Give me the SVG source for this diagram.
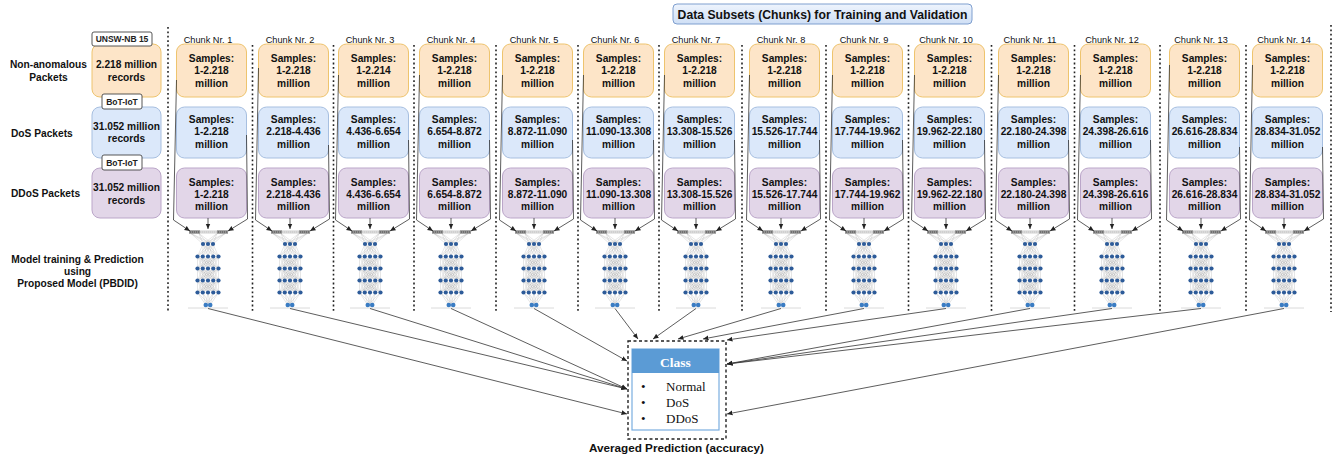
<svg xmlns="http://www.w3.org/2000/svg" xmlns:xlink="http://www.w3.org/1999/xlink" width="1341" height="459" viewBox="0 0 1341 459">
  <style>
    .lbl { font-family: "Liberation Sans", Arial, sans-serif; font-weight: bold; font-size: 10.2px; fill: #111; }
    .bt { font-family: "Liberation Sans", Arial, sans-serif; font-weight: bold; font-size: 10.2px; fill: #111; text-anchor: middle; }
    .chunk { font-family: "Liberation Sans", Arial, sans-serif; font-size: 9.2px; fill: #111; text-anchor: middle; }
    .tag { font-family: "Liberation Sans", Arial, sans-serif; font-weight: bold; font-size: 8.5px; fill: #222; text-anchor: middle; }
    .org { fill: #fde5c8; stroke: #eec46e; stroke-width: 1; }
    .blu { fill: #dbe8fa; stroke: #a7bfe0; stroke-width: 1; }
    .pur { fill: #e2d6e8; stroke: #bba6c9; stroke-width: 1; }
    .tagbox { fill: #fff; stroke: #444; stroke-width: 0.9; }
    .div { stroke: #222; stroke-width: 1.6; stroke-dasharray: 1.8 2.6; fill: none; }
    .con { stroke: #333; stroke-width: 0.8; fill: none; marker-end: url(#ah); }
    .mesh { stroke: #a9a9a9; stroke-width: 0.3; fill: none; }
    .nd { fill: #2d5b99; }
    .out { fill: #3a7cc3; }
    .serif { font-family: "Liberation Serif", "Times New Roman", serif; font-size: 13px; fill: #111; }
  </style>
  <defs>
    <marker id="ah" markerWidth="7" markerHeight="6" refX="5.5" refY="3" orient="auto" markerUnits="userSpaceOnUse">
      <path d="M0,0.6 L5.5,3 L0,5.4 Z" fill="#222"/>
    </marker>
    <linearGradient id="titleFill" x1="0" y1="0" x2="0" y2="1">
      <stop offset="0" stop-color="#eef4fd"/>
      <stop offset="1" stop-color="#cfdff5"/>
    </linearGradient>
    <!-- fully connected mesh between two rows of five nodes -->
    <path id="m55" class="mesh" d="M-10.5 0L-10.5 12M-10.5 0L-5.25 12M-10.5 0L0 12M-10.5 0L5.25 12M-10.5 0L10.5 12M-5.25 0L-10.5 12M-5.25 0L-5.25 12M-5.25 0L0 12M-5.25 0L5.25 12M-5.25 0L10.5 12M0 0L-10.5 12M0 0L-5.25 12M0 0L0 12M0 0L5.25 12M0 0L10.5 12M5.25 0L-10.5 12M5.25 0L-5.25 12M5.25 0L0 12M5.25 0L5.25 12M5.25 0L10.5 12M10.5 0L-10.5 12M10.5 0L-5.25 12M10.5 0L0 12M10.5 0L5.25 12M10.5 0L10.5 12"/>
    <g id="row5">
      <circle cx="-10.5" cy="0" r="2.1"/><circle cx="-5.25" cy="0" r="2.1"/><circle cx="0" cy="0" r="2.1"/><circle cx="5.25" cy="0" r="2.1"/><circle cx="10.5" cy="0" r="2.1"/>
    </g>
    <!-- small neural network icon, x relative to its centre -->
    <g id="net">
      <line x1="-20" y1="308" x2="20" y2="308" stroke="#d0d0d0" stroke-width="0.8"/>
      <path class="mesh" d="M-17 233.5L-5 244M-17 233.5L0 244M-17 233.5L5 244M-9 233.5L-5 244M-9 233.5L0 244M-9 233.5L5 244M9 233.5L-5 244M9 233.5L0 244M9 233.5L5 244M17 233.5L-5 244M17 233.5L0 244M17 233.5L5 244"/>
      <path class="mesh" transform="translate(0,244)" d="M-5 0L-10.5 12.5M-5 0L-5.25 12.5M-5 0L0 12.5M-5 0L5.25 12.5M-5 0L10.5 12.5M0 0L-10.5 12.5M0 0L-5.25 12.5M0 0L0 12.5M0 0L5.25 12.5M0 0L10.5 12.5M5 0L-10.5 12.5M5 0L-5.25 12.5M5 0L0 12.5M5 0L5.25 12.5M5 0L10.5 12.5"/>
      <use href="#m55" y="256.5"/>
      <use href="#m55" y="268.5"/>
      <use href="#m55" y="280.5"/>
      <path class="mesh" transform="translate(0,292.5)" d="M-10.5 0L-2.2 12.5M-10.5 0L2.2 12.5M-5.25 0L-2.2 12.5M-5.25 0L2.2 12.5M0 0L-2.2 12.5M0 0L2.2 12.5M5.25 0L-2.2 12.5M5.25 0L2.2 12.5M10.5 0L-2.2 12.5M10.5 0L2.2 12.5"/>
      <rect x="-19" y="230.5" width="39" height="3" fill="#cfcfcf"/>
      <rect x="-19" y="230.5" width="11" height="3" fill="#707070"/>
      <rect x="9" y="230.5" width="11" height="3" fill="#707070"/>
      <line x1="-19" y1="232" x2="20" y2="232" stroke="#fff" stroke-width="0.6" stroke-dasharray="0.8 1.2"/>
      <g class="nd">
        <circle cx="-5" cy="244" r="2.1"/><circle cx="0" cy="244" r="2.1"/><circle cx="5" cy="244" r="2.1"/>
        <use href="#row5" y="256.5"/>
        <use href="#row5" y="268.5"/>
        <use href="#row5" y="280.5"/>
        <use href="#row5" y="292.5"/>
      </g>
      <g class="out">
        <circle cx="-2.2" cy="305" r="2.3"/><circle cx="2.2" cy="305" r="2.3"/>
      </g>
    </g>
  </defs>

  <rect width="1341" height="459" fill="#fff"/>

  <!-- title -->
  <g id="title">
    <rect x="673" y="4" width="299" height="20" rx="4" fill="url(#titleFill)" stroke="#7f9fcf" stroke-width="1"/>
    <text x="822.5" y="19" text-anchor="middle" font-family="Liberation Sans, Arial, sans-serif" font-weight="bold" font-size="12.2" fill="#111">Data Subsets (Chunks) for Training and Validation</text>
  </g>

  <!-- row captions -->
  <g id="captions">
    <text class="bt" x="48.5" y="67.5">Non-anomalous</text>
    <text class="bt" x="48.5" y="80.5">Packets</text>
    <text class="lbl" x="11" y="136.6">DoS Packets</text>
    <text class="lbl" x="11" y="197">DDoS Packets</text>
    <text class="bt" x="77.5" y="262.5">Model training &amp; Prediction</text>
    <text class="bt" x="77.5" y="274.5">using</text>
    <text class="bt" x="77.5" y="286.5">Proposed Model (PBDID)</text>
  </g>

  <!-- source datasets -->
  <g id="src-normal">
    <rect class="org" x="92" y="44" width="69" height="53" rx="8"/>
    <text class="bt" x="126.5" y="68">2.218 million</text>
    <text class="bt" x="126.5" y="80.5">records</text>
  </g>
  <g id="src-dos">
    <rect class="blu" x="92" y="107" width="69" height="51" rx="8"/>
    <text class="bt" x="126.5" y="130">31.052 million</text>
    <text class="bt" x="126.5" y="142.3">records</text>
  </g>
  <g id="src-ddos">
    <rect class="pur" x="92" y="168" width="69" height="50" rx="8"/>
    <text class="bt" x="126.5" y="191">31.052 million</text>
    <text class="bt" x="126.5" y="203.5">records</text>
  </g>
  <g id="tag-unsw">
    <rect class="tagbox" x="92" y="32" width="60" height="14" rx="2"/>
    <text class="tag" x="122" y="42.3">UNSW-NB 15</text>
  </g>
  <g id="tag-bot1">
    <rect class="tagbox" x="102" y="94" width="40" height="15" rx="2"/>
    <text class="tag" x="122" y="104.5">BoT-IoT</text>
  </g>
  <g id="tag-bot2">
    <rect class="tagbox" x="102" y="155" width="40" height="15" rx="2"/>
    <text class="tag" x="122" y="165.5">BoT-IoT</text>
  </g>

  <!-- dotted column separators -->
  <g id="separators">
    <line class="div" x1="168" y1="27" x2="168" y2="312"/>
    <line class="div" x1="252.5" y1="45" x2="252.5" y2="312"/>
    <line class="div" x1="333.5" y1="45" x2="333.5" y2="312"/>
    <line class="div" x1="414" y1="45" x2="414" y2="312"/>
    <line class="div" x1="496" y1="45" x2="496" y2="312"/>
    <line class="div" x1="578" y1="45" x2="578" y2="312"/>
    <line class="div" x1="659" y1="45" x2="659" y2="312"/>
    <line class="div" x1="742" y1="45" x2="742" y2="312"/>
    <line class="div" x1="826" y1="45" x2="826" y2="312"/>
    <line class="div" x1="908.5" y1="45" x2="908.5" y2="312"/>
    <line class="div" x1="991.5" y1="45" x2="991.5" y2="312"/>
    <line class="div" x1="1074.5" y1="45" x2="1074.5" y2="312"/>
    <line class="div" x1="1160" y1="45" x2="1160" y2="312"/>
    <line class="div" x1="1246" y1="45" x2="1246" y2="312"/>
    <line class="div" x1="1331" y1="25" x2="1331" y2="312"/>
  </g>

  <!-- chunk columns -->
  <g id="chunk1">
    <text class="chunk" x="208" y="42.5">Chunk Nr. 1</text>
    <rect class="org" x="176.5" y="44" width="70" height="53" rx="8"/>
    <rect class="blu" x="176.5" y="107" width="70" height="51" rx="8"/>
    <rect class="pur" x="176.5" y="168" width="70" height="50" rx="8"/>
    <text class="bt" x="211.5" y="61.7">Samples:</text><text class="bt" x="211.5" y="74.2">1-2.218</text><text class="bt" x="211.5" y="86.7">million</text>
    <text class="bt" x="211.5" y="122.7">Samples:</text><text class="bt" x="211.5" y="135.3">1-2.218</text><text class="bt" x="211.5" y="147.8">million</text>
    <text class="bt" x="211.5" y="185.7">Samples:</text><text class="bt" x="211.5" y="198">1-2.218</text><text class="bt" x="211.5" y="210.3">million</text>
    <use href="#net" x="208"/>
  </g>
  <g id="chunk2">
    <text class="chunk" x="290" y="42.5">Chunk Nr. 2</text>
    <rect class="org" x="258.5" y="44" width="70" height="53" rx="8"/>
    <rect class="blu" x="258.5" y="107" width="70" height="51" rx="8"/>
    <rect class="pur" x="258.5" y="168" width="70" height="50" rx="8"/>
    <text class="bt" x="293.5" y="61.7">Samples:</text><text class="bt" x="293.5" y="74.2">1-2.218</text><text class="bt" x="293.5" y="86.7">million</text>
    <text class="bt" x="293.5" y="122.7">Samples:</text><text class="bt" x="293.5" y="135.3">2.218-4.436</text><text class="bt" x="293.5" y="147.8">million</text>
    <text class="bt" x="293.5" y="185.7">Samples:</text><text class="bt" x="293.5" y="198">2.218-4.436</text><text class="bt" x="293.5" y="210.3">million</text>
    <use href="#net" x="290"/>
  </g>
  <g id="chunk3">
    <text class="chunk" x="370" y="42.5">Chunk Nr. 3</text>
    <rect class="org" x="338.5" y="44" width="70" height="53" rx="8"/>
    <rect class="blu" x="338.5" y="107" width="70" height="51" rx="8"/>
    <rect class="pur" x="338.5" y="168" width="70" height="50" rx="8"/>
    <text class="bt" x="373.5" y="61.7">Samples:</text><text class="bt" x="373.5" y="74.2">1-2.214</text><text class="bt" x="373.5" y="86.7">million</text>
    <text class="bt" x="373.5" y="122.7">Samples:</text><text class="bt" x="373.5" y="135.3">4.436-6.654</text><text class="bt" x="373.5" y="147.8">million</text>
    <text class="bt" x="373.5" y="185.7">Samples:</text><text class="bt" x="373.5" y="198">4.436-6.654</text><text class="bt" x="373.5" y="210.3">million</text>
    <use href="#net" x="370"/>
  </g>
  <g id="chunk4">
    <text class="chunk" x="451" y="42.5">Chunk Nr. 4</text>
    <rect class="org" x="419.5" y="44" width="70" height="53" rx="8"/>
    <rect class="blu" x="419.5" y="107" width="70" height="51" rx="8"/>
    <rect class="pur" x="419.5" y="168" width="70" height="50" rx="8"/>
    <text class="bt" x="454.5" y="61.7">Samples:</text><text class="bt" x="454.5" y="74.2">1-2.218</text><text class="bt" x="454.5" y="86.7">million</text>
    <text class="bt" x="454.5" y="122.7">Samples:</text><text class="bt" x="454.5" y="135.3">6.654-8.872</text><text class="bt" x="454.5" y="147.8">million</text>
    <text class="bt" x="454.5" y="185.7">Samples:</text><text class="bt" x="454.5" y="198">6.654-8.872</text><text class="bt" x="454.5" y="210.3">million</text>
    <use href="#net" x="451"/>
  </g>
  <g id="chunk5">
    <text class="chunk" x="534" y="42.5">Chunk Nr. 5</text>
    <rect class="org" x="502.5" y="44" width="70" height="53" rx="8"/>
    <rect class="blu" x="502.5" y="107" width="70" height="51" rx="8"/>
    <rect class="pur" x="502.5" y="168" width="70" height="50" rx="8"/>
    <text class="bt" x="537.5" y="61.7">Samples:</text><text class="bt" x="537.5" y="74.2">1-2.218</text><text class="bt" x="537.5" y="86.7">million</text>
    <text class="bt" x="537.5" y="122.7">Samples:</text><text class="bt" x="537.5" y="135.3">8.872-11.090</text><text class="bt" x="537.5" y="147.8">million</text>
    <text class="bt" x="537.5" y="185.7">Samples:</text><text class="bt" x="537.5" y="198">8.872-11.090</text><text class="bt" x="537.5" y="210.3">million</text>
    <use href="#net" x="534"/>
  </g>
  <g id="chunk6">
    <text class="chunk" x="615" y="42.5">Chunk Nr. 6</text>
    <rect class="org" x="583.5" y="44" width="70" height="53" rx="8"/>
    <rect class="blu" x="583.5" y="107" width="70" height="51" rx="8"/>
    <rect class="pur" x="583.5" y="168" width="70" height="50" rx="8"/>
    <text class="bt" x="618.5" y="61.7">Samples:</text><text class="bt" x="618.5" y="74.2">1-2.218</text><text class="bt" x="618.5" y="86.7">million</text>
    <text class="bt" x="618.5" y="122.7">Samples:</text><text class="bt" x="618.5" y="135.3">11.090-13.308</text><text class="bt" x="618.5" y="147.8">million</text>
    <text class="bt" x="618.5" y="185.7">Samples:</text><text class="bt" x="618.5" y="198">11.090-13.308</text><text class="bt" x="618.5" y="210.3">million</text>
    <use href="#net" x="615"/>
  </g>
  <g id="chunk7">
    <text class="chunk" x="696" y="42.5">Chunk Nr. 7</text>
    <rect class="org" x="664.5" y="44" width="70" height="53" rx="8"/>
    <rect class="blu" x="664.5" y="107" width="70" height="51" rx="8"/>
    <rect class="pur" x="664.5" y="168" width="70" height="50" rx="8"/>
    <text class="bt" x="699.5" y="61.7">Samples:</text><text class="bt" x="699.5" y="74.2">1-2.218</text><text class="bt" x="699.5" y="86.7">million</text>
    <text class="bt" x="699.5" y="122.7">Samples:</text><text class="bt" x="699.5" y="135.3">13.308-15.526</text><text class="bt" x="699.5" y="147.8">million</text>
    <text class="bt" x="699.5" y="185.7">Samples:</text><text class="bt" x="699.5" y="198">13.308-15.526</text><text class="bt" x="699.5" y="210.3">million</text>
    <use href="#net" x="696"/>
  </g>
  <g id="chunk8">
    <text class="chunk" x="781" y="42.5">Chunk Nr. 8</text>
    <rect class="org" x="749.5" y="44" width="70" height="53" rx="8"/>
    <rect class="blu" x="749.5" y="107" width="70" height="51" rx="8"/>
    <rect class="pur" x="749.5" y="168" width="70" height="50" rx="8"/>
    <text class="bt" x="784.5" y="61.7">Samples:</text><text class="bt" x="784.5" y="74.2">1-2.218</text><text class="bt" x="784.5" y="86.7">million</text>
    <text class="bt" x="784.5" y="122.7">Samples:</text><text class="bt" x="784.5" y="135.3">15.526-17.744</text><text class="bt" x="784.5" y="147.8">million</text>
    <text class="bt" x="784.5" y="185.7">Samples:</text><text class="bt" x="784.5" y="198">15.526-17.744</text><text class="bt" x="784.5" y="210.3">million</text>
    <use href="#net" x="781"/>
  </g>
  <g id="chunk9">
    <text class="chunk" x="864" y="42.5">Chunk Nr. 9</text>
    <rect class="org" x="832.5" y="44" width="70" height="53" rx="8"/>
    <rect class="blu" x="832.5" y="107" width="70" height="51" rx="8"/>
    <rect class="pur" x="832.5" y="168" width="70" height="50" rx="8"/>
    <text class="bt" x="867.5" y="61.7">Samples:</text><text class="bt" x="867.5" y="74.2">1-2.218</text><text class="bt" x="867.5" y="86.7">million</text>
    <text class="bt" x="867.5" y="122.7">Samples:</text><text class="bt" x="867.5" y="135.3">17.744-19.962</text><text class="bt" x="867.5" y="147.8">million</text>
    <text class="bt" x="867.5" y="185.7">Samples:</text><text class="bt" x="867.5" y="198">17.744-19.962</text><text class="bt" x="867.5" y="210.3">million</text>
    <use href="#net" x="864"/>
  </g>
  <g id="chunk10">
    <text class="chunk" x="946" y="42.5">Chunk Nr. 10</text>
    <rect class="org" x="914.5" y="44" width="70" height="53" rx="8"/>
    <rect class="blu" x="914.5" y="107" width="70" height="51" rx="8"/>
    <rect class="pur" x="914.5" y="168" width="70" height="50" rx="8"/>
    <text class="bt" x="949.5" y="61.7">Samples:</text><text class="bt" x="949.5" y="74.2">1-2.218</text><text class="bt" x="949.5" y="86.7">million</text>
    <text class="bt" x="949.5" y="122.7">Samples:</text><text class="bt" x="949.5" y="135.3">19.962-22.180</text><text class="bt" x="949.5" y="147.8">million</text>
    <text class="bt" x="949.5" y="185.7">Samples:</text><text class="bt" x="949.5" y="198">19.962-22.180</text><text class="bt" x="949.5" y="210.3">million</text>
    <use href="#net" x="946"/>
  </g>
  <g id="chunk11">
    <text class="chunk" x="1030" y="42.5">Chunk Nr. 11</text>
    <rect class="org" x="998.5" y="44" width="70" height="53" rx="8"/>
    <rect class="blu" x="998.5" y="107" width="70" height="51" rx="8"/>
    <rect class="pur" x="998.5" y="168" width="70" height="50" rx="8"/>
    <text class="bt" x="1033.5" y="61.7">Samples:</text><text class="bt" x="1033.5" y="74.2">1-2.218</text><text class="bt" x="1033.5" y="86.7">million</text>
    <text class="bt" x="1033.5" y="122.7">Samples:</text><text class="bt" x="1033.5" y="135.3">22.180-24.398</text><text class="bt" x="1033.5" y="147.8">million</text>
    <text class="bt" x="1033.5" y="185.7">Samples:</text><text class="bt" x="1033.5" y="198">22.180-24.398</text><text class="bt" x="1033.5" y="210.3">million</text>
    <use href="#net" x="1030"/>
  </g>
  <g id="chunk12">
    <text class="chunk" x="1112" y="42.5">Chunk Nr. 12</text>
    <rect class="org" x="1080.5" y="44" width="70" height="53" rx="8"/>
    <rect class="blu" x="1080.5" y="107" width="70" height="51" rx="8"/>
    <rect class="pur" x="1080.5" y="168" width="70" height="50" rx="8"/>
    <text class="bt" x="1115.5" y="61.7">Samples:</text><text class="bt" x="1115.5" y="74.2">1-2.218</text><text class="bt" x="1115.5" y="86.7">million</text>
    <text class="bt" x="1115.5" y="122.7">Samples:</text><text class="bt" x="1115.5" y="135.3">24.398-26.616</text><text class="bt" x="1115.5" y="147.8">million</text>
    <text class="bt" x="1115.5" y="185.7">Samples:</text><text class="bt" x="1115.5" y="198">24.398-26.616</text><text class="bt" x="1115.5" y="210.3">million</text>
    <use href="#net" x="1112"/>
  </g>
  <g id="chunk13">
    <text class="chunk" x="1201" y="42.5">Chunk Nr. 13</text>
    <rect class="org" x="1169.5" y="44" width="70" height="53" rx="8"/>
    <rect class="blu" x="1169.5" y="107" width="70" height="51" rx="8"/>
    <rect class="pur" x="1169.5" y="168" width="70" height="50" rx="8"/>
    <text class="bt" x="1204.5" y="61.7">Samples:</text><text class="bt" x="1204.5" y="74.2">1-2.218</text><text class="bt" x="1204.5" y="86.7">million</text>
    <text class="bt" x="1204.5" y="122.7">Samples:</text><text class="bt" x="1204.5" y="135.3">26.616-28.834</text><text class="bt" x="1204.5" y="147.8">million</text>
    <text class="bt" x="1204.5" y="185.7">Samples:</text><text class="bt" x="1204.5" y="198">26.616-28.834</text><text class="bt" x="1204.5" y="210.3">million</text>
    <use href="#net" x="1201"/>
  </g>
  <g id="chunk14">
    <text class="chunk" x="1284" y="42.5">Chunk Nr. 14</text>
    <rect class="org" x="1252.5" y="44" width="70" height="53" rx="8"/>
    <rect class="blu" x="1252.5" y="107" width="70" height="51" rx="8"/>
    <rect class="pur" x="1252.5" y="168" width="70" height="50" rx="8"/>
    <text class="bt" x="1287.5" y="61.7">Samples:</text><text class="bt" x="1287.5" y="74.2">1-2.218</text><text class="bt" x="1287.5" y="86.7">million</text>
    <text class="bt" x="1287.5" y="122.7">Samples:</text><text class="bt" x="1287.5" y="135.3">28.834-31.052</text><text class="bt" x="1287.5" y="147.8">million</text>
    <text class="bt" x="1287.5" y="185.7">Samples:</text><text class="bt" x="1287.5" y="198">28.834-31.052</text><text class="bt" x="1287.5" y="210.3">million</text>
    <use href="#net" x="1284"/>
  </g>

  <!-- output class box -->
  <g id="class-box">
    <rect x="628" y="341" width="98" height="98" fill="#fff" stroke="#222" stroke-width="1.4" stroke-dasharray="3 2.5"/>
    <rect x="632" y="349" width="87" height="81" fill="#fff" stroke="#7aaee0" stroke-width="1.2"/>
    <rect x="632" y="349" width="87" height="24" fill="#5b9bd5"/>
    <text x="675.5" y="367.3" text-anchor="middle" font-family="Liberation Serif, Times New Roman, serif" font-weight="bold" font-size="13.5" fill="#fff">Class</text>
    <text class="serif" x="641" y="391">•</text><text class="serif" x="666" y="391">Normal</text>
    <text class="serif" x="641" y="406.5">•</text><text class="serif" x="666" y="406.5">DoS</text>
    <text class="serif" x="641" y="423">•</text><text class="serif" x="666" y="423">DDoS</text>
  </g>
  <g id="caption-avg">
    <text x="676.5" y="452" text-anchor="middle" font-family="Liberation Sans, Arial, sans-serif" font-weight="bold" font-size="11.7" fill="#111">Averaged Prediction (accuracy)</text>
  </g>

  <!-- connectors -->
  <g id="connectors">
    <!-- data rows into each model -->
    <path class="con" d="M176.5 80 L173.5 220 L190 231"/>
    <path class="con" d="M246.5 135 L247.5 219 L228 231"/>
    <path class="con" d="M208 218 L208 229"/>
    <path class="con" d="M258.5 68 L255.5 220 L272 231"/>
    <path class="con" d="M328.5 145 L329.5 219 L310 231"/>
    <path class="con" d="M290 218 L290 229"/>
    <path class="con" d="M338.5 75 L335.5 220 L352 231"/>
    <path class="con" d="M408.5 140 L409.5 219 L390 231"/>
    <path class="con" d="M370 218 L370 229"/>
    <path class="con" d="M419.5 75 L416.5 220 L433 231"/>
    <path class="con" d="M489.5 140 L490.5 219 L471 231"/>
    <path class="con" d="M451 218 L451 229"/>
    <path class="con" d="M502.5 75 L499.5 220 L516 231"/>
    <path class="con" d="M572.5 140 L573.5 219 L554 231"/>
    <path class="con" d="M534 218 L534 229"/>
    <path class="con" d="M583.5 75 L580.5 220 L597 231"/>
    <path class="con" d="M653.5 140 L654.5 219 L635 231"/>
    <path class="con" d="M615 218 L615 229"/>
    <path class="con" d="M664.5 75 L661.5 220 L678 231"/>
    <path class="con" d="M734.5 140 L735.5 219 L716 231"/>
    <path class="con" d="M696 218 L696 229"/>
    <path class="con" d="M749.5 75 L746.5 220 L763 231"/>
    <path class="con" d="M819.5 140 L820.5 219 L801 231"/>
    <path class="con" d="M781 218 L781 229"/>
    <path class="con" d="M832.5 75 L829.5 220 L846 231"/>
    <path class="con" d="M902.5 140 L903.5 219 L884 231"/>
    <path class="con" d="M864 218 L864 229"/>
    <path class="con" d="M914.5 75 L911.5 220 L928 231"/>
    <path class="con" d="M984.5 140 L985.5 219 L966 231"/>
    <path class="con" d="M946 218 L946 229"/>
    <path class="con" d="M998.5 75 L995.5 220 L1012 231"/>
    <path class="con" d="M1068.5 140 L1069.5 219 L1050 231"/>
    <path class="con" d="M1030 218 L1030 229"/>
    <path class="con" d="M1080.5 75 L1077.5 220 L1094 231"/>
    <path class="con" d="M1150.5 140 L1151.5 219 L1132 231"/>
    <path class="con" d="M1112 218 L1112 229"/>
    <path class="con" d="M1169.5 65 L1166.5 220 L1183 231"/>
    <path class="con" d="M1239.5 147 L1240.5 219 L1221 231"/>
    <path class="con" d="M1201 218 L1201 229"/>
    <path class="con" d="M1252.5 65 L1249.5 220 L1266 231"/>
    <path class="con" d="M1322.5 147 L1323.5 219 L1304 231"/>
    <path class="con" d="M1284 218 L1284 229"/>

    <!-- model outputs into the class box -->
    <path class="con" d="M208 308.5 L627 414"/>
    <path class="con" d="M290 308.5 L627 389"/>
    <path class="con" d="M370 308.5 L627 389"/>
    <path class="con" d="M451 308.5 L627 389"/>
    <path class="con" d="M534 308.5 L627 361"/>
    <path class="con" d="M615 308.5 L638 339"/>
    <path class="con" d="M696 308.5 L653 339"/>
    <path class="con" d="M781 308.5 L678 339"/>
    <path class="con" d="M864 308.5 L703 339"/>
    <path class="con" d="M946 308.5 L727 340"/>
    <path class="con" d="M1030 308.5 L727 364"/>
    <path class="con" d="M1112 308.5 L727 364"/>
    <path class="con" d="M1201 308.5 L727 364"/>
    <path class="con" d="M1284 308.5 L727 414"/>
  </g>
</svg>
